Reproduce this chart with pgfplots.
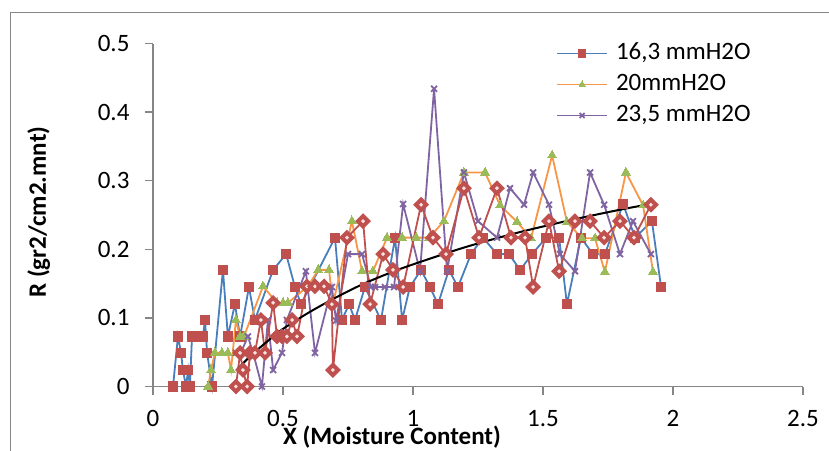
\documentclass[border=0pt]{standalone}
\usepackage{pgfplots}
\pgfplotsset{compat=1.18}
\usepackage{fontspec}
\setmainfont{Carlito}
\definecolor{sblue}{HTML}{4A7EBB}
\definecolor{sred}{HTML}{C0504D}
\definecolor{sorange}{HTML}{F79646}
\definecolor{sgreen}{HTML}{9BBB59}
\definecolor{spurple}{HTML}{8064A2}
\definecolor{axgray}{HTML}{868686}
\definecolor{dpink}{HTML}{F6E0E0}
\begin{document}
\begin{tikzpicture}[x=1pt,y=1pt]
\useasboundingbox (0,0) rectangle (829,450);
\draw[axgray, line width=1pt] (10,-5) -- (10,437) -- (835,437);
\begin{axis}[
  at={(153pt,63.5pt)}, anchor=south west,
  scale only axis, width=650pt, height=343pt,
  xmin=0, xmax=2.5, ymin=0, ymax=0.5,
  axis lines=left, axis line style={-, axgray, line width=1.3pt},
  xtick={0,0.5,1,1.5,2,2.5}, ytick={0,0.1,0.2,0.3,0.4,0.5},
  tick align=outside, major tick length=8pt,
  tick style={axgray, line width=1.3pt},
  /pgf/number format/assume math mode=true,
  ticklabel style={font=\fontsize{25}{30}\selectfont, text=black},
  yticklabel style={xshift=-12pt},
  xticklabel style={yshift=-12pt},
  label style={font=\fontsize{25}{30}\selectfont\bfseries},
  xlabel={X (Moisture Content)},
  ylabel={R (gr2/cm2.mnt)},
  xlabel style={at={(axis description cs:0.3677,-0.1700)}, anchor=base},
  ylabel style={at={(axis description cs:-0.1760,0.5087)}, anchor=center},
  legend style={draw=none, fill=none, anchor=north west,
    at={(axis description cs:0.6154,1.0093)},
    font=\fontsize{25}{30}\selectfont, row sep=9pt,
    nodes={inner sep=0pt, text height=17pt, text depth=5pt},
    /tikz/every odd column/.append style={column sep=8pt}},
  legend cell align=left,
  legend image code/.code={\draw[mark repeat=2,mark phase=2,#1] plot coordinates {(0pt,0pt) (25pt,0pt) (50pt,0pt)};},
  legend image post style={mark size=3.6pt},
  clip=false,
]
\addplot[sblue, line width=1.8pt, mark=square*, mark size=4.6pt, mark options={fill=sred, draw=sred, line width=0pt}] coordinates {
(0.077,0) (0.096,0.073) (0.108,0.049) (0.115,0.024) (0.127,0) (0.135,0.024) (0.142,0) (0.150,0.073) (0.173,0.073) (0.192,0.073) (0.200,0.097) (0.208,0.049) (0.227,0) (0.269,0.170) (0.288,0.073) (0.315,0.120) (0.335,0.073) (0.369,0.145) (0.392,0.097) (0.462,0.170) (0.512,0.193) (0.546,0.145) (0.569,0.120) (0.700,0.217) (0.727,0.097) (0.754,0.120) (0.777,0.097) (0.815,0.145) (0.877,0.097) (0.931,0.217) (0.958,0.097) (0.988,0.145) (1.031,0.170) (1.065,0.145) (1.096,0.120) (1.138,0.170) (1.173,0.145) (1.223,0.193) (1.269,0.217) (1.323,0.193) (1.369,0.193) (1.412,0.170) (1.458,0.193) (1.512,0.217) (1.562,0.217) (1.592,0.120) (1.646,0.217) (1.692,0.193) (1.738,0.193) (1.808,0.266) (1.854,0.217) (1.919,0.241) (1.954,0.145)
};
\addlegendentry{16,3 mmH2O}
\addplot[sorange, line width=1.8pt, mark=triangle*, mark size=5.2pt, mark options={fill=sgreen, draw=sgreen, line width=0pt}] coordinates {
(0.212,0) (0.223,0.024) (0.238,0.049) (0.265,0.049) (0.288,0.049) (0.300,0.024) (0.319,0.097) (0.335,0.073) (0.350,0.073) (0.423,0.146) (0.477,0.122) (0.500,0.122) (0.519,0.122) (0.596,0.146) (0.635,0.170) (0.677,0.170) (0.692,0.120) (0.765,0.241) (0.804,0.168) (0.846,0.168) (0.900,0.217) (0.958,0.217) (1.012,0.217) (1.062,0.217) (1.119,0.241) (1.196,0.312) (1.277,0.312) (1.335,0.264) (1.400,0.240) (1.454,0.216) (1.535,0.337) (1.592,0.240) (1.650,0.216) (1.700,0.216) (1.738,0.167) (1.819,0.312) (1.885,0.264) (1.923,0.167)
};
\addlegendentry{20mmH2O}
\addplot[spurple, line width=1.8pt, mark=x, mark size=4.2pt, mark options={line width=1.8pt}] coordinates {
(0.319,0.049) (0.338,0.049) (0.365,0.073) (0.385,0.049) (0.419,0) (0.442,0.097) (0.462,0.024) (0.496,0.049) (0.515,0.097) (0.588,0.168) (0.623,0.049) (0.688,0.145) (0.704,0.096) (0.750,0.193) (0.804,0.193) (0.838,0.145) (0.854,0.145) (0.892,0.145) (0.927,0.145) (0.962,0.266) (1.027,0.168) (1.081,0.434) (1.131,0.168) (1.196,0.312) (1.250,0.241) (1.323,0.217) (1.373,0.289) (1.427,0.265) (1.462,0.312) (1.523,0.265) (1.565,0.193) (1.623,0.168) (1.681,0.312) (1.735,0.265) (1.796,0.193) (1.846,0.241) (1.915,0.193)
};
\addlegendentry{23,5 mmH2O}
\addplot[sred, line width=1.8pt, mark=square*, mark size=3.6pt, mark options={rotate=45, fill=dpink, draw=sred, line width=4pt}, forget plot] coordinates {
(0.319,0) (0.335,0.049) (0.346,0.024) (0.362,0) (0.373,0.049) (0.392,0.049) (0.415,0.097) (0.431,0.049) (0.462,0.122) (0.477,0.073) (0.496,0.073) (0.515,0.073) (0.535,0.097) (0.554,0.073) (0.592,0.146) (0.623,0.146) (0.658,0.146) (0.688,0.120) (0.692,0.024) (0.746,0.217) (0.808,0.241) (0.835,0.120) (0.885,0.193) (0.923,0.170) (0.962,0.145) (1.031,0.265) (1.077,0.217) (1.127,0.193) (1.196,0.289) (1.254,0.217) (1.323,0.289) (1.377,0.217) (1.431,0.217) (1.462,0.145) (1.523,0.241) (1.562,0.168) (1.623,0.241) (1.681,0.241) (1.735,0.217) (1.796,0.241) (1.850,0.217) (1.915,0.265)
};
\addplot[black, line width=2pt, smooth, no marks, forget plot] coordinates {
(0.322,0.024) (0.36,0.039) (0.4,0.053) (0.45,0.069) (0.5,0.084) (0.6,0.108) (0.7,0.129) (0.8,0.148) (0.9,0.164) (1.0,0.178) (1.2,0.203) (1.4,0.224) (1.6,0.242) (1.8,0.258) (1.914,0.266)
};
\end{axis}
\end{tikzpicture}
\end{document}
